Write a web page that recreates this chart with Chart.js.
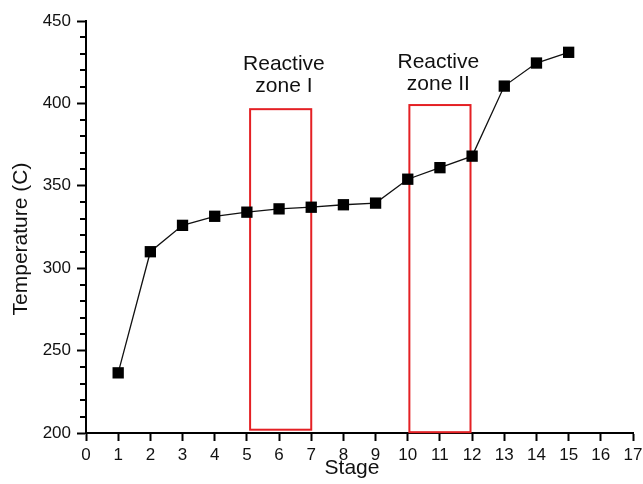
<!DOCTYPE html>
<html>
<head>
<meta charset="utf-8">
<script src="https://cdn.jsdelivr.net/npm/chart.js@4"></script>
<style>
  html, body { margin: 0; padding: 0; background: #fff; }
  #wrap { width: 643px; height: 484px; }
</style>
</head>
<body>
<div id="wrap"><canvas id="myChart"></canvas></div>
<script>
// data
const stages = [1, 2, 3, 4, 5, 6, 7, 8, 9, 10, 11, 12, 13, 14, 15];
const temps = [236.5, 310, 326, 331.5, 334, 336, 337, 338.5, 339.5, 354, 361, 368, 410.5, 424.5, 431];

// reactive zones (stage from/to, temperature from/to)
const zoneNames = ['zone I', 'zone II'];
const zoneStageFrom = [5.1, 10.05];
const zoneStageTo = [7, 11.95];
const zoneTempFrom = [202, 200.5];
const zoneTempTo = [396.5, 399];

const FONT = "'Liberation Sans', Arial, Helvetica, sans-serif";

// red boxes, zone labels, axis titles and minor y ticks
const zonePlugin = {
  id: 'zones',
  beforeDatasetsDraw(chart) {
    const x = chart.scales.x, y = chart.scales.y;
    const ctx = chart.ctx;
    ctx.save();
    ctx.strokeStyle = 'rgb(228,32,36)';
    ctx.lineWidth = 2;
    for (let i = 0; i < zoneNames.length; i++) {
      const x0 = x.getPixelForValue(zoneStageFrom[i]);
      const x1 = x.getPixelForValue(zoneStageTo[i]);
      const y0 = y.getPixelForValue(zoneTempTo[i]);
      const y1 = y.getPixelForValue(zoneTempFrom[i]);
      ctx.strokeRect(x0, y0, x1 - x0, y1 - y0);
    }
    ctx.fillStyle = '#111';
    ctx.font = '21px ' + FONT;
    ctx.textAlign = 'center';
    ctx.textBaseline = 'alphabetic';
    const labelX = [6.15, 10.95];
    const labelY = [420, 421.5];
    for (let i = 0; i < zoneNames.length; i++) {
      const px = x.getPixelForValue(labelX[i]);
      const py = y.getPixelForValue(labelY[i]);
      ctx.fillText('Reactive', px, py);
      ctx.fillText(zoneNames[i], px, py + 22);
    }
    ctx.restore();
  },
  afterDraw(chart) {
    const y = chart.scales.y;
    const ctx = chart.ctx;
    const area = chart.chartArea;
    ctx.save();
    ctx.strokeStyle = '#000';
    ctx.lineWidth = 2;
    for (let v = 200; v <= 450; v += 10) {
      if (v % 50 === 0) continue;
      const py = Math.round(y.getPixelForValue(v));
      ctx.beginPath();
      ctx.moveTo(area.left - 6, py);
      ctx.lineTo(area.left, py);
      ctx.stroke();
    }
    // axis titles
    ctx.fillStyle = '#111';
    ctx.font = '21px ' + FONT;
    ctx.textAlign = 'center';
    ctx.textBaseline = 'alphabetic';
    ctx.fillText('Stage', area.left + 266, 474);
    ctx.translate(27, area.top + 218);
    ctx.rotate(-Math.PI / 2);
    ctx.fillText('Temperature (C)', 0, 0);
    ctx.restore();
  }
};

const config = {
  type: 'line',
  data: {
    labels: stages,
    datasets: [{
      data: stages.map((s, i) => ({ x: s, y: temps[i] })),
      borderColor: '#111',
      borderWidth: 1.3,
      backgroundColor: '#000',
      pointStyle: 'rect',
      pointRadius: 8,
      pointBackgroundColor: '#000',
      pointBorderWidth: 0,
      fill: false,
      tension: 0
    }]
  },
  options: {
    responsive: true,
    maintainAspectRatio: false,
    animation: false,
    layout: { padding: { top: 21, right: 10, left: 0, bottom: 0 } },
    plugins: { legend: { display: false }, tooltip: { enabled: false } },
    scales: {
      x: {
        type: 'linear',
        min: 0,
        max: 17,
        ticks: { stepSize: 1, autoSkip: false, maxRotation: 0, color: '#111', padding: 4, font: { family: FONT, size: 17 } },
        grid: { drawOnChartArea: false, tickLength: 8, tickWidth: 2, tickColor: '#000' },
        border: { color: '#000', width: 2 },
        afterFit(scale) {
          scale.height = 51;
          scale.paddingLeft = 0;
          scale.paddingRight = 0;
        }
      },
      y: {
        min: 200,
        max: 450,
        ticks: { stepSize: 50, color: '#111', padding: 6, font: { family: FONT, size: 17 } },
        grid: { drawOnChartArea: false, tickLength: 9, tickWidth: 2, tickColor: '#000' },
        border: { color: '#000', width: 2 },
        afterFit(scale) {
          scale.width = 86;
          scale.paddingTop = 0;
          scale.paddingBottom = 0;
        }
      }
    }
  },
  plugins: [zonePlugin]
};

const myChart = new Chart(document.getElementById('myChart'), config);
</script>
</body>
</html>
